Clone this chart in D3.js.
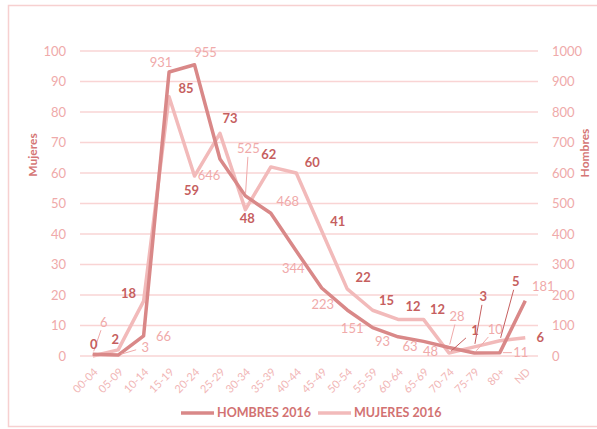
<!DOCTYPE html>
<html>
<head>
<meta charset="utf-8">
<script src="https://cdn.jsdelivr.net/npm/d3@7"></script>
<style>
  body { margin: 0; background: #fff; }
  svg { font-family: Lato, "Open Sans", sans-serif; }
</style>
</head>
<body>
<svg id="chart" width="597" height="429"></svg>
<script>
var categories = ['00-04','05-09','10-14','15-19','20-24','25-29','30-34','35-39','40-44',
  '45-49','50-54','55-59','60-64','65-69','70-74','75-79','80+','ND'];
var hombres = [6, 3, 66, 931, 955, 646, 525, 468, 344, 223, 151, 93, 63, 48, 28, 10, 11, 181];
var mujeres = [0, 2, 18, 85, 59, 73, 48, 62, 60, 41, 22, 15, 12, 12, 1, 3, 5, 6];
var leftTicks = [0,10,20,30,40,50,60,70,80,90,100];
var rightTicks = [0,100,200,300,400,500,600,700,800,900,1000];

// label placement (pixel offsets from the point), last flag = leader line
var hombresLabelPos = [[11,-32,1],[27,-8,1],[20,1],[-8,-10],[11,-12],[-11,16],[3,-47,1],[17,-12],[-3,17],
  [1,16],[5,19],[10,14],[12,10],[7,10],[8,-31,1],[21,-24,1],[21,0,1],[18,-14]];
var mujeresLabelPos = [[1,-12],[-3,-10],[-15,-8],[17,-8],[-3,14],[10,-15],[2,9],[-2,-12],[16,-11],
  [16,-10],[16,-11],[14,-10],[15,-13],[14,-10],[26,-23,1],[9,-50,1],[16,-59,1],[15,0]];

var darkLine = '#d98888', lightLine = '#f2baba';
var grid = '#f9d4d4';

var svg = d3.select('#chart');

svg.append('rect').attr('x', 8.5).attr('y', 5.5).attr('width', 600).attr('height', 421)
  .attr('fill', 'none').attr('stroke', '#f7d0d0').attr('stroke-width', 1.5);

var x = d3.scaleBand().domain(categories).range([80, 538]);
var cx = function(c) { return x(c) + x.bandwidth() / 2; };
var yL = d3.scaleLinear().domain([0, 100]).range([356, 51]);
var yR = d3.scaleLinear().domain([0, 1000]).range([356, 51]);

// grid
svg.append('g').selectAll('line').data(leftTicks).join('line')
  .attr('x1', 80).attr('x2', 538)
  .attr('y1', function(d) { return yL(d); }).attr('y2', function(d) { return yL(d); })
  .attr('stroke', grid).attr('stroke-width', 1.5);

// axes
var axL = svg.append('g').attr('transform', 'translate(72,0)')
  .call(d3.axisLeft(yL).tickValues(leftTicks).tickSize(0).tickPadding(6));
var axR = svg.append('g').attr('transform', 'translate(546,0)')
  .call(d3.axisRight(yR).tickValues(rightTicks).tickFormat(d3.format('d')).tickSize(0).tickPadding(6));
[axL, axR].forEach(function(a) {
  a.select('.domain').remove();
  a.selectAll('text').attr('fill', '#efaaaa').style('font-size', '13px').style('font-family', 'Lato, sans-serif');
});

var axX = svg.append('g').attr('transform', 'translate(0,356)')
  .call(d3.axisBottom(x).tickSize(0).tickPadding(0));
axX.select('.domain').remove();
axX.selectAll('text')
  .attr('fill', '#f1b6b6').style('font-size', '11px').style('font-family', 'Lato, sans-serif')
  .attr('text-anchor', 'end').attr('dy', '0.35em')
  .attr('transform', 'translate(3,14) rotate(-45)');

// axis titles
svg.append('text').attr('transform', 'translate(37,155) rotate(-90)')
  .attr('text-anchor', 'middle').attr('fill', '#d57676')
  .style('font-size', '12px').style('font-weight', 'bold').text('Mujeres');
svg.append('text').attr('transform', 'translate(589,153) rotate(-90)')
  .attr('text-anchor', 'middle').attr('fill', '#d57676')
  .style('font-size', '12px').style('font-weight', 'bold').text('Hombres');

// lines
var lineL = d3.line().x(function(d, i) { return cx(categories[i]); }).y(function(d) { return yL(d); });
var lineR = d3.line().x(function(d, i) { return cx(categories[i]); }).y(function(d) { return yR(d); });

svg.append('path').datum(mujeres).attr('d', lineL)
  .attr('fill', 'none').attr('stroke', lightLine).attr('stroke-width', 3.5).attr('stroke-linejoin', 'round');
svg.append('path').datum(hombres).attr('d', lineR)
  .attr('fill', 'none').attr('stroke', darkLine).attr('stroke-width', 3.5).attr('stroke-linejoin', 'round');

// data labels
function drawLabels(values, scale, pos, color, weight) {
  var g = svg.append('g');
  values.forEach(function(v, i) {
    var px = cx(categories[i]), py = scale(v);
    var lx = px + pos[i][0], ly = py + pos[i][1];
    if (pos[i][2]) {
      var dx = px - lx, dy = py - ly;
      var t = Math.min(dx ? 9 / Math.abs(dx) : 99, dy ? 8 / Math.abs(dy) : 99);
      var len = Math.sqrt(dx * dx + dy * dy);
      g.append('line')
        .attr('x1', lx + t * dx).attr('y1', ly + t * dy)
        .attr('x2', px - dx / len * 3).attr('y2', py - dy / len * 3)
        .attr('stroke', color).attr('stroke-width', 1);
    }
    g.append('text').attr('x', lx).attr('y', ly).attr('dy', '0.35em')
      .attr('text-anchor', 'middle').attr('fill', color)
      .style('font-size', '13px').style('font-weight', weight).text(v);
  });
}
drawLabels(hombres, yR, hombresLabelPos, '#f0aaaa', 'normal');
drawLabels(mujeres, yL, mujeresLabelPos, '#c65f5f', 'bold');

// legend
var legend = [['HOMBRES 2016', darkLine, 181], ['MUJERES 2016', lightLine, 318]];
legend.forEach(function(l) {
  svg.append('line').attr('x1', l[2]).attr('x2', l[2] + 33).attr('y1', 413).attr('y2', 413)
    .attr('stroke', l[1]).attr('stroke-width', 3.5);
  svg.append('text').attr('x', l[2] + 36).attr('y', 413).attr('dy', '0.35em')
    .attr('fill', '#d27272').style('font-size', '12.5px').style('font-weight', 'bold').text(l[0]);
});
</script>
</body>
</html>
